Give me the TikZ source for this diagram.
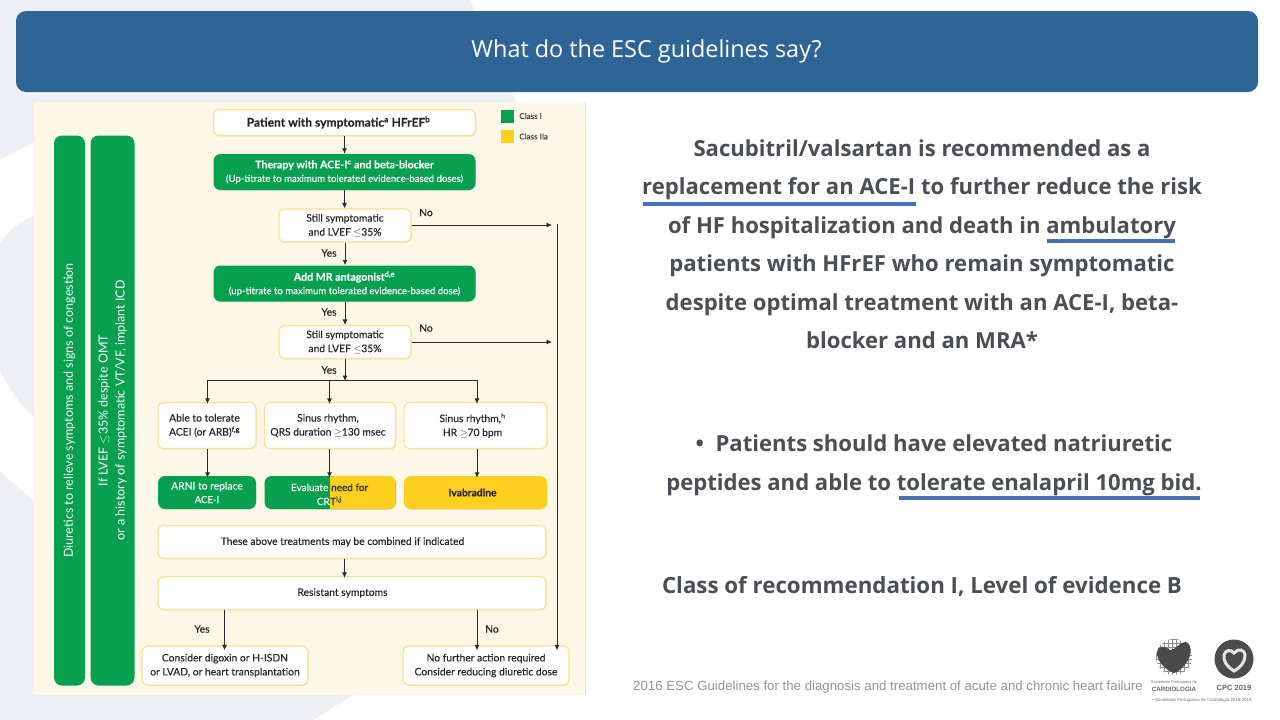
\documentclass[tikz,border=0pt]{standalone}
\usepackage{fontspec}
\usepackage{tikz}
\usetikzlibrary{shapes,arrows,arrows.meta,positioning,shadows}
\setmainfont{Open Sans}
\newfontfamily\chartfont[FakeBold=0.25]{Lato}
\newfontfamily\barfont{Lato}
\newfontfamily\footfont{Liberation Sans}
\definecolor{headblue}{HTML}{2F6496}
\definecolor{panel}{HTML}{FDF7E7}
\definecolor{classone}{HTML}{06A04F}
\definecolor{classtwo}{HTML}{FDD01F}
\definecolor{rim}{HTML}{F6E38F}
\definecolor{bodygrey}{HTML}{4A4F55}
\definecolor{uline}{HTML}{4472B4}
\definecolor{faint}{HTML}{EDEFF5}
\definecolor{inkline}{HTML}{2A2A2A}
\definecolor{logogrey}{HTML}{4A4A4A}
\newcommand{\greenhead}{\fontsize{10.6}{13.5}\selectfont\bfseries}
\tikzset{
	softshadow/.style={drop shadow={opacity=.18,shadow xshift=.7pt,shadow yshift=-.9pt}},
	whitebox/.style={rectangle,rounded corners=6pt,draw=rim,line width=1.2pt,fill=white,align=center,softshadow,
		inner sep=0pt,font=\chartfont\fontsize{10.3}{14}\selectfont,text=black!85},
	greenbox/.style={rectangle,rounded corners=7pt,fill=classone,align=center,inner sep=0pt,softshadow,
		font=\chartfont\fontsize{9.6}{13.5}\selectfont,text=white},
	yellowbox/.style={greenbox,fill=classtwo,text=black!85},
	bar/.style={rectangle,rounded corners=8pt,fill=classone,inner sep=0pt,align=center,text=white,rotate=90,
		font=\barfont\fontsize{12.5}{17}\selectfont},
	arrowline/.style={draw=inkline,line width=.9pt,-{Latex[length=5.5pt,width=5pt]}},
	flag/.style={font=\chartfont\fontsize{10.3}{12}\selectfont,text=black!85,inner sep=0pt},
	legendtext/.style={font=\chartfont\fontsize{8}{10}\selectfont,text=black!75,inner sep=0pt,anchor=west},
	bigtext/.style={align=center,text=bodygrey,inner sep=0pt,font=\fontsize{22.1}{38.5}\selectfont\bfseries},
	ruleline/.style={draw=uline,line width=3.2pt},
	crttext/.style={font=\chartfont\fontsize{10}{13.5}\selectfont,inner sep=0pt}
}
\begin{document}
\begin{tikzpicture}[x=1pt,y=-1pt]
	\useasboundingbox (0,0) rectangle (1280,720);
	% background
	\fill[white] (0,0) rectangle (1280,720);
	\fill[faint] (0,0) -- (470,0) -- (516,102) -- (34,102) -- (34,142) -- (0,160) -- cycle;
	\fill[faint] (0,243) .. controls (10,230) and (22,220) .. (34,215) -- (34,417) .. controls (20,405) and (10,390) .. (0,371) -- cycle;
	\fill[faint] (0,471) .. controls (10,480) and (22,492) .. (34,500) -- (34,695) -- (353,695) -- (313,720) -- (0,720) -- cycle;
	% header
	\node[rectangle,rounded corners=10pt,fill=headblue,minimum width=1242pt,minimum height=81pt,inner sep=0pt,
		text=white,font=\fontsize{23.4}{26}\selectfont](Head) at (637,51.5){\hspace{19pt}\raisebox{-1.5pt}{What do the ESC guidelines say?}};
	% flowchart
	\fill[panel] (34,102) rectangle (585,695);
	\draw[rim,line width=.6pt] (585,102) -- (585,695);
	\node[bar,minimum width=550pt,minimum height=31pt](Diuretics) at (69.5,410.5){Diuretics to relieve symptoms and signs of congestion};
	\node[bar,minimum width=550pt,minimum height=44pt](Icdbar) at (112.5,410.5){If LVEF $\leq$35\% despite OMT\\or a history of symptomatic VT/VF, implant ICD};
	\node[whitebox,minimum width=262pt,minimum height=26pt,font=\chartfont\fontsize{12}{14}\selectfont\bfseries](Patient) at (344.5,122.5){\hspace{-12pt}Patient with symptomatic\textsuperscript{a} HFrEF\textsuperscript{b}};
	\node[greenbox,minimum width=262pt,minimum height=36pt](Therapy) at (344.5,172){{\greenhead Therapy with ACE-I\textsuperscript{c} and beta-blocker}\\(Up-titrate to maximum tolerated evidence-based doses)};
	\node[whitebox,minimum width=132pt,minimum height=33pt](StillA) at (345,225.5){Still symptomatic\\and LVEF $\leq$35\%};
	\node[greenbox,minimum width=262pt,minimum height=36pt](Mra) at (344.5,283.5){{\greenhead Add MR antagonist\textsuperscript{d,e}}\\(up-titrate to maximum tolerated evidence-based dose)};
	\node[whitebox,minimum width=132pt,minimum height=33pt](StillB) at (345,342){Still symptomatic\\and LVEF $\leq$35\%};
	\node[whitebox,minimum width=98pt,minimum height=46pt](Tolerate) at (207,425.5){\hspace{-5pt}Able to tolerate\\\hspace{-5pt}ACEI (or ARB)\textsuperscript{f,g}};
	\node[whitebox,minimum width=131pt,minimum height=46pt](Sinus) at (330,425.5){\hspace{-4pt}Sinus rhythm,\\\hspace{-4pt}QRS duration $\geq$130 msec};
	\node[whitebox,minimum width=143pt,minimum height=46pt](Rate) at (475.5,425.5){\hspace{-6pt}Sinus rhythm,\textsuperscript{h}\\\hspace{-6pt}HR $\geq$70 bpm};
	\node[greenbox,minimum width=98pt,minimum height=33pt](Arni) at (207,492.5){\fontsize{10.3}{14}\selectfont ARNI to replace\\ACE-I};
	\node[greenbox,minimum width=131pt,minimum height=33pt](Crt) at (330,492.5){};
	\begin{scope}
		\clip (330,470) rectangle (400,515);
		\fill[classtwo,rounded corners=7pt] (Crt.south west) rectangle (Crt.north east);
	\end{scope}
	\node[crttext,anchor=base east,text=white](CrtA) at (328.5,491){Evaluate};
	\node[crttext,anchor=base west,text=black!85](CrtB) at (331,491){need for};
	\node[crttext,anchor=base east,text=white](CrtC) at (330,505){CR};
	\node[crttext,anchor=base west,text=black!85](CrtD) at (330,505){T\textsuperscript{i,j}};
	\node[yellowbox,minimum width=143pt,minimum height=33pt](Ivab) at (475.5,492.5){\hspace{-6pt}\fontsize{10.3}{14}\selectfont\bfseries Ivabradine};
	\node[whitebox,minimum width=388pt,minimum height=33pt](Combined) at (352,542){\hspace{-19pt}These above treatments may be combined if indicated};
	\node[whitebox,minimum width=388pt,minimum height=33pt](Resistant) at (352,593){\hspace{-19pt}Resistant symptoms};
	\node[whitebox,minimum width=166pt,minimum height=39pt](Digoxin) at (225,665.5){Consider digoxin or H-ISDN\\or LVAD, or heart transplantation};
	\node[whitebox,minimum width=166pt,minimum height=39pt](Nofurther) at (486,665.5){No further action required\\Consider reducing diuretic dose};
	% legend
	\node[rectangle,fill=classone,minimum size=13pt,inner sep=0pt](KeyOne) at (507.5,116){};
	\node[rectangle,fill=classtwo,minimum size=13pt,inner sep=0pt](KeyTwo) at (507.5,136.5){};
	\node[legendtext,right=5pt of KeyOne]{Class I};
	\node[legendtext,right=5pt of KeyTwo]{Class IIa};
	% labels on the arrows
	\node[flag](NoA) at (426,212.5){No};
	\node[flag](NoB) at (426,328){No};
	\node[flag](YesA) at (329,253){Yes};
	\node[flag](YesB) at (329,312){Yes};
	\node[flag](YesC) at (329,370){Yes};
	\node[flag](YesD) at (202,629){Yes};
	\node[flag](NoC) at (492,629){No};
	% connectors
	\coordinate (BranchM) at (329.5,380);
	\coordinate (BranchL) at (207.5,380);
	\coordinate (BranchR) at (477,380);
	\coordinate (OutA) at (552,225);
	\coordinate (OutB) at (552,342);
	\coordinate (RailTop) at (557,224);
	\coordinate (YesLine) at (224.5,610);
	\coordinate (NoLine) at (477,610);
	\path[arrowline] (Patient.south) -- (Patient.south|-Therapy.north);
	\path[arrowline] (Therapy.south) -- (Therapy.south|-StillA.north);
	\path[arrowline] (StillA.south) -- (StillA.south|-Mra.north);
	\path[arrowline] (Mra.south-|StillB) -- (StillB.north);
	\path[arrowline,shorten >=-1pt] (StillB.south) -- (StillB.south|-BranchM);
	\draw[inkline,line width=.9pt] (BranchL) -- (BranchR);
	\path[arrowline] (BranchL) -- ([yshift=-2pt]BranchL|-Tolerate.north);
	\path[arrowline] (BranchM) -- ([yshift=-2pt]BranchM|-Sinus.north);
	\path[arrowline] (BranchR) -- ([yshift=-2pt]BranchR|-Rate.north);
	\path[arrowline] (BranchL|-Tolerate.south) -- ([yshift=-2pt]BranchL|-Arni.north);
	\path[arrowline] (BranchM|-Sinus.south) -- ([yshift=-2pt]BranchM|-Crt.north);
	\path[arrowline] (BranchR|-Rate.south) -- ([yshift=-2pt]BranchR|-Ivab.north);
	\path[arrowline] (StillA.east|-OutA) -- (OutA);
	\path[arrowline] (StillB.east|-OutB) -- (OutB);
	\path[arrowline] (Patient.south|-Combined.south) -- ([yshift=-2pt]Patient.south|-Resistant.north);
	\path[arrowline] (YesLine) -- ([yshift=-5pt]YesLine|-Digoxin.north);
	\path[arrowline] (NoLine) -- ([yshift=-5pt]NoLine|-Nofurther.north);
	\path[arrowline] (RailTop) -- ([yshift=-5pt]RailTop|-Nofurther.north);
	% text on the right
	\node[bigtext](Lead) at (922,244){Sacubitril/valsartan is recommended as a\\replacement for an ACE-I to further reduce the risk\\of HF hospitalization and death in ambulatory\\patients with HFrEF who remain symptomatic\\despite optimal treatment with an ACE-I, beta-\\blocker and an MRA*};
	\node[bigtext](Points) at (934,465.5){\textbullet\ \ Patients should have elevated natriuretic\\peptides and able to tolerate enalapril 10mg bid.};
	\node[bigtext,font=\fontsize{22.3}{38.5}\selectfont\bfseries](Level) at (922,586){Class of recommendation I, Level of evidence B};
	\draw[ruleline] (643,204) -- (916,204);
	\draw[ruleline] (1047,241) -- (1175,241);
	\draw[ruleline] (899,498) -- (1200,498);
	% footer
	\node[inner sep=0pt,anchor=west,text=black!42,font=\footfont\fontsize{13.25}{15}\selectfont](Source) at (633,687){2016 ESC Guidelines for the diagnosis and treatment of acute and chronic heart failure};
	% logos
	\begin{scope}
		\clip (1174,657) circle (18);
		\foreach \gridx in {1156,1160,...,1192}{
			\draw[black!45,line width=.5pt] (\gridx,639) -- (\gridx,675);
		}
		\foreach \gridy in {639,643,...,675}{
			\draw[black!45,line width=.5pt] (1156,\gridy) -- (1192,\gridy);
		}
	\end{scope}
	\fill[logogrey] (1174,673) .. controls (1162,668) and (1157,660) .. (1157,652) .. controls (1157,646) and (1164,645) .. (1170,650) .. controls (1176,650) and (1180,641) .. (1186,642) .. controls (1192,644) and (1192,655) .. (1187,662) .. controls (1183,668) and (1178,672) .. (1174,673) -- cycle;
	\node[inner sep=0pt,text=black!55,font=\footfont\fontsize{4}{5}\selectfont](Society) at (1174,682){Sociedade Portuguesa de};
	\node[inner sep=0pt,text=black!60,font=\footfont\fontsize{6.2}{8}\selectfont\bfseries](Cardio) at (1174,689.5){CARDIOLOGIA};
	\node[circle,fill=black!70,minimum size=39pt,inner sep=0pt](Cpc) at (1234,659){};
	\draw[white!90!black,line width=3pt] (1234,671) .. controls (1226,666) and (1223,660) .. (1224,655) .. controls (1225,650) and (1231,649) .. (1234,653) .. controls (1238,648) and (1245,649) .. (1245,656) .. controls (1245,662) and (1240,668) .. (1234,671) -- cycle;
	\node[inner sep=0pt,text=black!60,font=\footfont\fontsize{7.5}{9}\selectfont\bfseries](CpcYear) at (1234,687.5){CPC 2019};
	\node[inner sep=0pt,text=black!55,font=\footfont\fontsize{4.4}{5}\selectfont](Rights) at (1202,700){\textbullet\ Sociedade Portuguesa de Cardiologia 2018-2019};
\end{tikzpicture}
\end{document}
